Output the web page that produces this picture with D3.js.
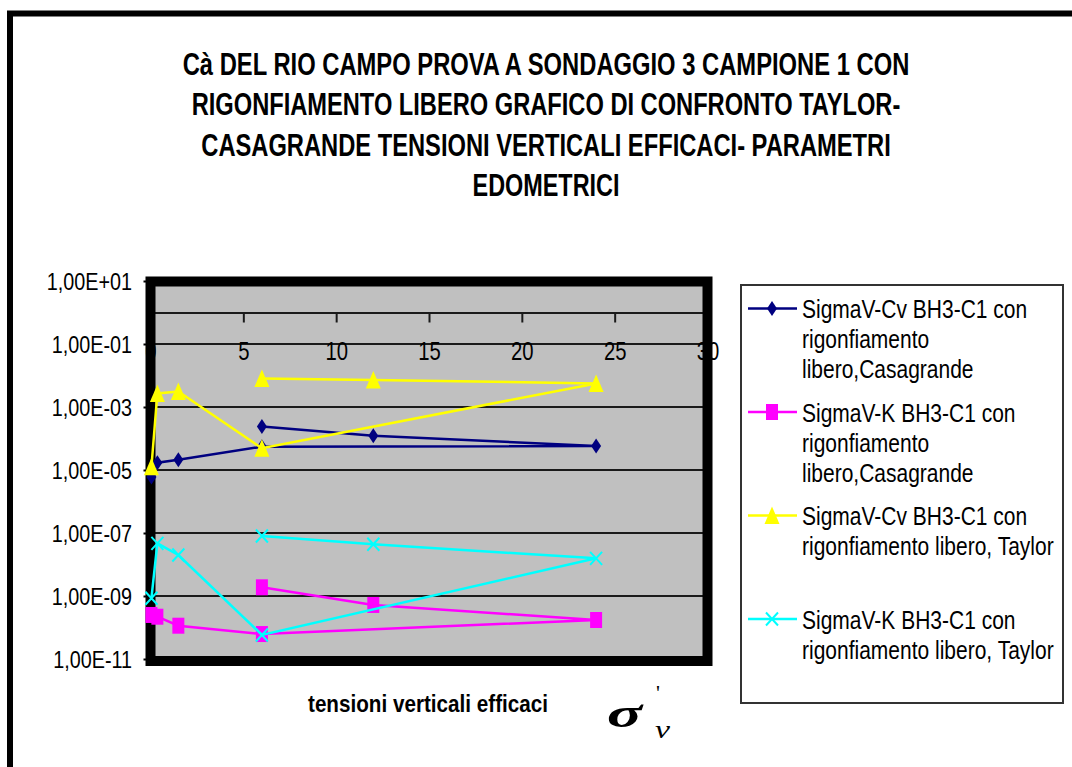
<!DOCTYPE html>
<html>
<head>
<meta charset="utf-8">
<script src="https://d3js.org/d3.v7.min.js"></script>
<style>
  body { margin: 0; background: #fff; }
  svg text { font-family: "Liberation Sans", Arial, sans-serif; fill: #000; }
</style>
</head>
<body>
<div id="chart"></div>
<script>
// load steps, in the order the readings were entered (loading, then unloading)
var loads = [0.05, 0.37, 1.5, 6, 24, 12, 6];
var cvCasagrande = [6.0e-6, 1.7e-5, 2.1e-5, 5.5e-5, 5.8e-5, 1.23e-4, 2.4e-4];
var kCasagrande = [2.5e-10, 2.2e-10, 1.14e-10, 6.2e-11, 1.73e-10, 5.2e-10, 1.89e-9];
var cvTaylor = [1.27e-5, 2.7e-3, 3.1e-3, 4.9e-5, 5.6e-3, 7.2e-3, 8.1e-3];
var kTaylor = [8.5e-10, 4.7e-8, 2.0e-8, 5.8e-11, 1.57e-8, 4.4e-8, 8.0e-8];

var xTicks = [0, 5, 10, 15, 20, 25, 30];
var yTicks = [1e1, 1e-1, 1e-3, 1e-5, 1e-7, 1e-9, 1e-11];
var gridValues = [1e-1, 1e-3, 1e-5, 1e-7, 1e-9];

var titleLines = [
  "Cà DEL RIO CAMPO PROVA A SONDAGGIO 3 CAMPIONE 1 CON",
  "RIGONFIAMENTO LIBERO GRAFICO DI CONFRONTO TAYLOR-",
  "CASAGRANDE TENSIONI VERTICALI EFFICACI- PARAMETRI",
  "EDOMETRICI"
];
var seriesNames = [
  ["SigmaV-Cv BH3-C1 con", "rigonfiamento", "libero,Casagrande"],
  ["SigmaV-K BH3-C1 con", "rigonfiamento", "libero,Casagrande"],
  ["SigmaV-Cv BH3-C1 con", "rigonfiamento libero, Taylor"],
  ["SigmaV-K BH3-C1 con", "rigonfiamento libero, Taylor"]
];
var seriesValues = [cvCasagrande, kCasagrande, cvTaylor, kTaylor];
var seriesColors = ["#000080", "#ff00ff", "#ffff00", "#00ffff"];
var seriesShapes = ["diamond", "square", "triangle", "cross"];

var W = 1072, H = 767;

var svg = d3.select("#chart").append("svg")
  .attr("width", W)
  .attr("height", H);

// outer frame of the chart object
svg.append("rect")
  .attr("x", 10).attr("y", 13.5)
  .attr("width", 1100).attr("height", 800)
  .attr("fill", "#fff")
  .attr("stroke", "#000")
  .attr("stroke-width", 6);

// squeeze a text horizontally so it fills a given width (narrow font look)
function fitWidth(sel, cx, cy, w) {
  sel.each(function () {
    var n = this.getComputedTextLength();
    d3.select(this).attr("transform",
      "translate(" + cx + "," + cy + ") scale(" + Math.min(1, w / n) + ",1)");
  });
}

// title
var titleWidths = [727, 709, 690, 147];
var titleG = svg.append("g");
titleLines.forEach(function (t, i) {
  var tt = titleG.append("text")
    .attr("text-anchor", "middle")
    .attr("font-size", 31)
    .attr("font-weight", "bold")
    .text(t);
  fitWidth(tt, 546, 75 + i * 40.3, titleWidths[i]);
});

// scales
var x = d3.scaleLinear().domain([0, 30]).range([150.5, 707.5]);
var y = d3.scaleLog().domain([1e1, 1e-11]).range([281, 659]);

// plot area
svg.append("rect")
  .attr("x", x(0)).attr("y", y(1e1))
  .attr("width", x(30) - x(0))
  .attr("height", y(1e-11) - y(1e1))
  .attr("fill", "#c0c0c0");

// gridlines
svg.append("g").selectAll("line")
  .data(gridValues)
  .enter().append("line")
  .attr("x1", x(0)).attr("x2", x(30))
  .attr("y1", function (d) { return y(d); })
  .attr("y2", function (d) { return y(d); })
  .attr("stroke", "#1a1a1a")
  .attr("stroke-width", 2);

// x axis crosses the log axis at 1
var xAxis = svg.append("g")
  .attr("transform", "translate(0," + y(1) + ")")
  .call(d3.axisBottom(x).tickValues(xTicks).tickSize(10).tickSizeOuter(0));
xAxis.select(".domain").attr("stroke", "#1a1a1a").attr("stroke-width", 2);
xAxis.selectAll(".tick line").attr("stroke", "#1a1a1a").attr("stroke-width", 2);
xAxis.selectAll(".tick text")
  .attr("y", 48)
  .attr("dy", 0)
  .attr("font-size", 26)
  .attr("font-family", "Liberation Sans, Arial, sans-serif")
  .attr("fill", "#000")
  .attr("transform", "scale(0.78,1)");

// y axis, labels like 1,00E-05
function sciLabel(v) {
  var e = Math.round(Math.log10(v));
  var s = e < 0 ? "-" : "+";
  var a = Math.abs(e);
  return "1,00E" + s + (a < 10 ? "0" + a : a);
}
var yAxis = svg.append("g")
  .attr("transform", "translate(" + x(0) + ",0)")
  .call(d3.axisLeft(y).tickValues(yTicks).tickFormat(sciLabel).tickSize(7).tickSizeOuter(0));
yAxis.select(".domain").remove();
yAxis.selectAll(".tick line").attr("stroke", "#000").attr("stroke-width", 2);
yAxis.selectAll(".tick text")
  .attr("x", -21.5)
  .attr("dy", "0.36em")
  .attr("font-size", 23)
  .attr("font-family", "Liberation Sans, Arial, sans-serif")
  .attr("fill", "#000")
  .attr("transform", "scale(0.86,1)");

// thick plot frame, over the end labels but under the series
svg.append("rect")
  .attr("x", x(0)).attr("y", y(1e1) + 0.5)
  .attr("width", x(30) - x(0))
  .attr("height", y(1e-11) - y(1e1) + 1.5)
  .attr("fill", "none")
  .attr("stroke", "#000")
  .attr("stroke-width", 10);

// markers
function drawMarker(g, shape, color) {
  if (shape === "diamond") {
    g.append("path").attr("d", "M0,-7.5L5,0L0,7.5L-5,0Z").attr("fill", color);
  } else if (shape === "square") {
    g.append("path").attr("d", "M-6,-8H6V8H-6Z").attr("fill", color);
  } else if (shape === "triangle") {
    g.append("path").attr("d", "M0,-9L7.5,8.5H-7.5Z").attr("fill", color);
  } else {
    g.append("path").attr("d", "M-6,-6.5L6,6.5M-6,6.5L6,-6.5")
      .attr("fill", "none").attr("stroke", color).attr("stroke-width", 2);
  }
}

var line = d3.line()
  .x(function (d) { return x(d[0]); })
  .y(function (d) { return y(d[1]); });

var plot = svg.append("g");
seriesValues.forEach(function (vals, si) {
  var pts = loads.map(function (l, i) { return [l, vals[i]]; });
  var sg = plot.append("g");
  sg.append("path")
    .datum(pts)
    .attr("d", line)
    .attr("fill", "none")
    .attr("stroke", seriesColors[si])
    .attr("stroke-width", 2.5);
  pts.forEach(function (p) {
    var mg = sg.append("g").attr("transform", "translate(" + x(p[0]) + "," + y(p[1]) + ")");
    drawMarker(mg, seriesShapes[si], seriesColors[si]);
  });
});

// legend
var legend = svg.append("g");
legend.append("rect")
  .attr("x", 741).attr("y", 285)
  .attr("width", 322).attr("height", 418)
  .attr("fill", "#fff")
  .attr("stroke", "#333")
  .attr("stroke-width", 2);

seriesNames.forEach(function (lines, si) {
  var base = 318 + si * 103.5;
  var lg = legend.append("g");
  lg.append("line")
    .attr("x1", 748).attr("x2", 797)
    .attr("y1", base - 9.5).attr("y2", base - 9.5)
    .attr("stroke", seriesColors[si])
    .attr("stroke-width", 2.5);
  drawMarker(lg.append("g").attr("transform", "translate(772," + (base - 9.5) + ")"),
    seriesShapes[si], seriesColors[si]);
  lines.forEach(function (t, li) {
    lg.append("text")
      .attr("transform", "translate(802," + (base + li * 30) + ") scale(0.84,1)")
      .attr("font-size", 25)
      .text(t);
  });
});

// axis title
var xTitle = svg.append("text")
  .attr("font-size", 23)
  .attr("font-weight", "bold")
  .text("tensioni verticali efficaci");
fitWidth(xTitle, 308, 712, 240);

// sigma'_v symbol
var sym = svg.append("g");
sym.append("text")
  .attr("transform", "translate(607,727) scale(1.55,1)")
  .attr("font-size", 42)
  .attr("font-style", "italic")
  .attr("font-weight", "bold")
  .style("font-family", "Liberation Serif, serif")
  .text("σ");
sym.append("text")
  .attr("x", 656).attr("y", 700)
  .attr("font-size", 22)
  .style("font-family", "Liberation Serif, serif")
  .text("'");
sym.append("text")
  .attr("transform", "translate(655,738) scale(1.3,1)")
  .attr("font-size", 26)
  .attr("font-style", "italic")
  .style("font-family", "Liberation Serif, serif")
  .text("v");
</script>
</body>
</html>
